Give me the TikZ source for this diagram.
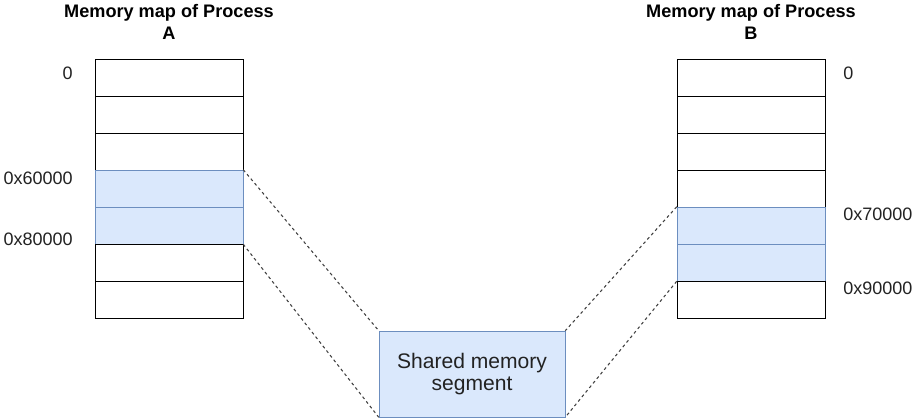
\documentclass[tikz,border=0pt]{standalone}
\usepackage{fontspec}
\setmainfont{Liberation Sans}
\usetikzlibrary{positioning}
\definecolor{shfill}{HTML}{DAE8FC}
\definecolor{shline}{HTML}{6C8EBF}
\definecolor{txt}{HTML}{222222}
\tikzset{
  cell/.style={draw=black, fill=white, minimum width=111pt, minimum height=27.75pt, inner sep=0pt},
  shcell/.style={cell, draw=shline, fill=shfill},
  addr/.style={text=txt, font=\fontsize{13.5}{16}\selectfont, inner sep=0pt},
  maptitle/.style={align=center, font=\bfseries\fontsize{13.6}{16}\selectfont, inner sep=0pt},
  link/.style={dash pattern=on 2.2pt off 2.2pt, draw=black!75, line width=0.8pt}
}
\begin{document}
\begin{tikzpicture}[x=0.75pt, y=-0.75pt]
\useasboundingbox (0,0) rectangle (920,420);
  % Process A
  \node[maptitle] (titleA) at (169,22) {Memory map of Process\\A}; % title A
  \node[cell] (a1) at (169,77.5) {};
  \node[cell] (a2) at (169,114.5) {};
  \node[cell] (a3) at (169,151.5) {};
  \node[shcell] (a4) at (169,188.5) {};
  \node[shcell] (a5) at (169,225.5) {};
  \node[cell] (a6) at (169,262.5) {};
  \node[cell] (a7) at (169,299.5) {};
  \node[addr, anchor=east] (la1) at (73,73) {0};
  \node[addr, anchor=east] (la4) at (73,178) {0x60000};
  \node[addr, anchor=east] (la5) at (73,239) {0x80000};

  % Process B
  \node[maptitle] (titleB) at (751,22) {Memory map of Process\\B}; % title B
  \node[cell] (b1) at (751,77.5) {};
  \node[cell] (b2) at (751,114.5) {};
  \node[cell] (b3) at (751,151.5) {};
  \node[cell] (b4) at (751,188.5) {};
  \node[shcell] (b5) at (751,225.5) {};
  \node[shcell] (b6) at (751,262.5) {};
  \node[cell] (b7) at (751,299.5) {};
  \node[addr, anchor=west] (lb1) at (843,73) {0};
  \node[addr, anchor=west] (lb5) at (843,214) {0x70000};
  \node[addr, anchor=west] (lb6) at (843,288) {0x90000};

  % shared segment
  \node[draw=shline, fill=shfill, minimum width=139.5pt, minimum height=64.5pt,
    align=center, text=txt, font=\fontsize{15.8}{17}\selectfont] (seg) at (472,374)
    {Shared memory\\segment};

  \draw[link] (a4.north east) -- (seg.north west); % A top -- segment
  \draw[link] (a5.south east) -- (seg.south west); % A bottom -- segment
  \draw[link] (b5.north west) -- (seg.north east); % B top -- segment
  \draw[link] (b6.south west) -- (seg.south east); % B bottom -- segment
\end{tikzpicture}
\end{document}
